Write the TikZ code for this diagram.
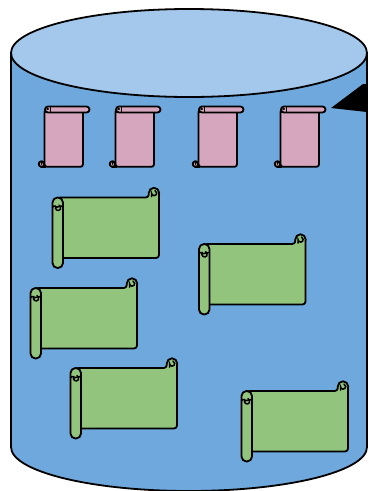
\documentclass[tikz,border=0pt]{standalone}
\usepackage{tikz}
\definecolor{tankblue}{HTML}{6FA8DC}
\definecolor{lidblue}{HTML}{A4C8EB}
\definecolor{scrollpink}{HTML}{D5A6BD}
\definecolor{scrollgreen}{HTML}{93C47D}
\tikzset{
  outline/.style={draw=black, line width=1.8pt, line join=round},
  tank/.style={outline, fill=tankblue},
  lid/.style={outline, fill=lidblue},
  pinkpart/.style={outline, fill=scrollpink},
  greenpart/.style={outline, fill=scrollgreen},
  curl/.style={draw=black, line width=1.5pt, line cap=round},
  pinkscroll/.pic={
    % Bottom curl, sheet, then the roll on top.
    \draw[pinkpart] (-3,56.5) circle (2.8);
    \draw[pinkpart, rounded corners=2.5pt] (0,2) -- (0,59.3) -- (38.5,59.3) -- (38.5,3) -- cycle;
    \draw[curl] (-3.5,59.3) -- (1,59.3);
    \draw[curl] (-3,56.5) arc (150:260:1.2);
    \draw[pinkpart, rounded corners=3pt] (0.5,-1) rectangle (45,5);
    \draw[curl] (1,4.8) -- (6,4.8) (5.8,-0.5) -- (5.8,4.5);
    \draw[curl] (2.5,1.7) -- (3.8,1.7);
  },
  greenscroll/.pic={
    % Top right curl, sheet, then the roll at the left.
    \draw[greenpart] (101.5,-4.5) circle (5.2);
    \fill[scrollgreen] (97.5,-2) rectangle (105.6,3);
    \draw[outline, fill=scrollgreen, rounded corners=3pt] (96.3,-4) -- (96.3,0) -- (5,0) -- (5,60.5)
      -- (106.5,60.5) -- (106.5,-4.5);
    \draw[curl] (99,-1) -- (99,-4.5) arc (180:-70:2.6);
    \draw[outline, fill=scrollgreen, rounded corners=5pt] (0,0) rectangle (10.5,70.5);
    \draw[curl] (3.4,8.7) arc (215:-70:2.7);
    \draw[curl] (0,9.8) arc (200:340:2) -- (7,9) (7,9) -- (10.5,8.5);
  }
}
\begin{document}
\begin{tikzpicture}[x=1pt, y=-1pt]
  \useasboundingbox (0,0) rectangle (368,491);

  % Tank and lid.
  \draw[tank] (11,53) -- (11,447) arc[start angle=180, end angle=360, x radius=178, y radius=-44]
    -- (367,53) -- cycle;
  \draw[lid] (189,53) ellipse [x radius=178, y radius=44];

  % Black wedge against the wall.
  \fill[black] (331,108) -- (363,84) -- (367,84) -- (367,112) -- cycle;

  % Small scrolls under the lid.
  \foreach \x in {44.5,115.5,198.5,280.5} {
    \pic at (\x,107.5) {pinkscroll};
  }

  % Large scrolls.
  \foreach \x/\y in {52.5/197.5,199/244,30.5/288,70.5/368,241.5/391} {
    \pic at (\x,\y) {greenscroll};
  }
\end{tikzpicture}
\end{document}
